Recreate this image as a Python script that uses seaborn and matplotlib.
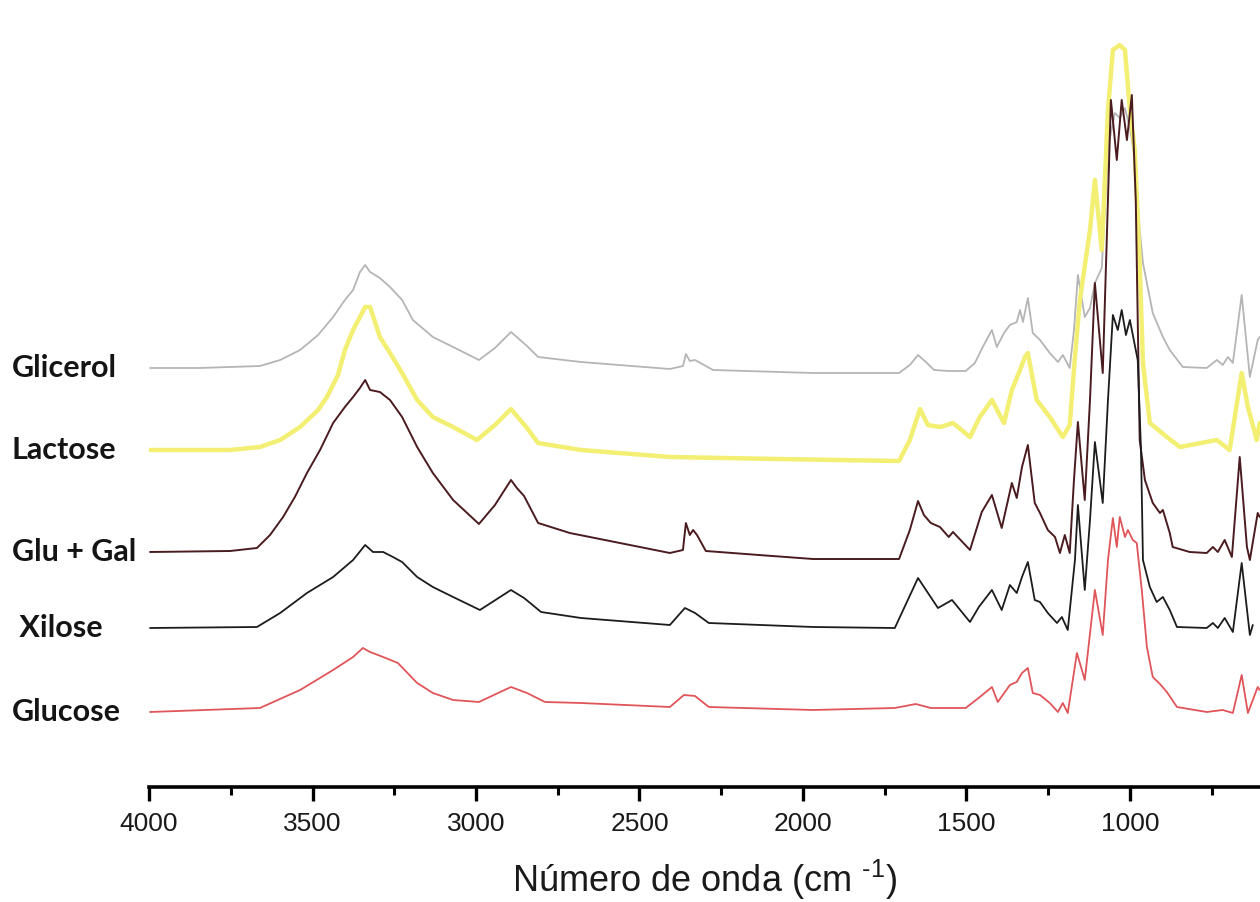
import numpy as np
import pandas as pd
import seaborn as sns
import matplotlib.pyplot as plt
from matplotlib import transforms
from matplotlib.ticker import MultipleLocator

# FTIR spectra (wavenumber in cm-1, absorbance in a.u.)
glicerol_wn = [3997, 3844, 3752, 3661, 3599, 3538, 3483, 3437, 3401, 3376, 3355, 3339, 3324, 3294, 3263, 3226, 3193,
               3132, 3070, 2991, 2942, 2893, 2844, 2810, 2679, 2407, 2367, 2358, 2346, 2330, 2275, 1969, 1706, 1673,
               1648, 1624, 1599, 1554, 1502, 1474, 1450, 1422, 1407, 1385, 1367, 1346, 1336, 1327, 1312, 1297, 1275,
               1245, 1220, 1205, 1184, 1171, 1159, 1138, 1122, 1107, 1086, 1067, 1046, 1031, 1015, 1000, 985, 970,
               960, 930, 899, 878, 838, 765, 734, 716, 700, 685, 658, 633, 609, 603]
glicerol_abs = [0, 0, 0.01, 0.02, 0.08, 0.18, 0.33, 0.51, 0.68, 0.78, 0.96, 1.03, 0.96, 0.90, 0.81, 0.68, 0.48,
                0.31, 0.21, 0.08, 0.20, 0.36, 0.22, 0.11, 0.06, -0.01, 0.02, 0.14, 0.07, 0.08, -0.02, -0.05, -0.05, 0.03,
                0.13, 0.06, -0.02, -0.03, -0.03, 0.05, 0.21, 0.38, 0.21, 0.35, 0.43, 0.46, 0.58, 0.46, 0.70, 0.35, 0.28,
                0.15, 0.06, 0.13, 0.00, 0.38, 0.93, 0.51, 0.60, 0.85, 1.00, 2.20, 2.55, 2.50, 2.60, 2.40, 2.10, 1.38,
                1.05, 0.55, 0.31, 0.18, 0.01, 0.00, 0.08, 0.03, 0.11, 0.05, 0.73, -0.09, 0.28, 0.31]

lactose_wn = [3997, 3752, 3661, 3599, 3538, 3483, 3456, 3422, 3401, 3376, 3355, 3339, 3324, 3294, 3263, 3226, 3180,
              3132, 3070, 2997, 2942, 2893, 2844, 2810, 2679, 2407, 2080, 1706, 1673, 1642, 1618, 1581, 1560, 1541,
              1489, 1459, 1422, 1385, 1361, 1336, 1321, 1312, 1285, 1245, 1205, 1184, 1168, 1153, 1122, 1107, 1086,
              1067, 1052, 1031, 1015, 1000, 985, 970, 960, 939, 887, 847, 734, 695, 658, 639, 612, 603]
lactose_abs = [0, 0, 0.03, 0.10, 0.23, 0.40, 0.53, 0.75, 1.00, 1.20, 1.33, 1.43, 1.43, 1.13, 0.97, 0.77, 0.50,
               0.33, 0.23, 0.10, 0.25, 0.41, 0.22, 0.07, 0.00, -0.07, -0.09, -0.11, 0.10, 0.41, 0.25, 0.23, 0.25, 0.27,
               0.13, 0.33, 0.50, 0.27, 0.60, 0.80, 0.93, 0.97, 0.50, 0.33, 0.13, 0.25, 0.93, 1.50, 2.20, 2.70, 2.00,
               3.40, 4.00, 4.05, 4.00, 3.40, 3.00, 1.87, 0.87, 0.27, 0.13, 0.03, 0.10, 0.00, 0.77, 0.43, 0.10, 0.27]

glugal_wn = [3997, 3752, 3670, 3630, 3590, 3554, 3517, 3477, 3437, 3401, 3376, 3355, 3339, 3324, 3294, 3263, 3226,
             3180, 3132, 3070, 2991, 2942, 2893, 2875, 2853, 2810, 2713, 2407, 2367, 2358, 2346, 2336, 2324, 2297,
             2135, 1969, 1706, 1673, 1648, 1630, 1609, 1581, 1554, 1541, 1489, 1453, 1422, 1392, 1361, 1346, 1330,
             1312, 1291, 1275, 1251, 1229, 1214, 1199, 1184, 1171, 1159, 1138, 1122, 1107, 1083, 1070, 1058, 1040,
             1025, 1009, 994, 982, 970, 954, 930, 908, 899, 878, 869, 817, 765, 746, 731, 710, 688, 664, 642, 633,
             609, 603]
glugal_abs = [0, 0.01, 0.04, 0.17, 0.35, 0.55, 0.79, 1.02, 1.29, 1.45, 1.55, 1.64, 1.72, 1.62, 1.60, 1.52, 1.35,
              1.05, 0.79, 0.52, 0.28, 0.47, 0.72, 0.64, 0.56, 0.29, 0.19, -0.01, 0.02, 0.29, 0.17, 0.22, 0.17, 0.01,
              -0.03, -0.07, -0.07, 0.22, 0.51, 0.37, 0.29, 0.25, 0.15, 0.20, 0.02, 0.40, 0.57, 0.24, 0.69, 0.54, 0.85,
              1.07, 0.49, 0.39, 0.22, 0.15, -0.01, 0.17, -0.01, 0.72, 1.30, 0.52, 1.52, 2.69, 1.79, 3.20, 4.52, 3.92,
              4.52, 4.12, 4.57, 3.52, 1.12, 0.72, 0.49, 0.39, 0.42, 0.19, 0.05, 0.00, -0.01, 0.05, 0.00, 0.12, -0.05,
              0.95, 0.05, -0.08, 0.39, 0.35]

xilose_wn = [3997, 3670, 3599, 3517, 3437, 3376, 3339, 3315, 3284, 3254, 3226, 3180, 3132, 3070, 2988, 2893, 2853,
             2801, 2679, 2407, 2361, 2330, 2288, 1969, 1719, 1648, 1587, 1544, 1489, 1462, 1422, 1392, 1367, 1346,
             1330, 1312, 1291, 1275, 1251, 1223, 1208, 1190, 1168, 1159, 1138, 1122, 1107, 1083, 1067, 1052, 1037,
             1025, 1012, 1000, 985, 976, 966, 960, 939, 918, 899, 878, 856, 765, 746, 731, 710, 685, 658, 633, 624]
xilose_abs = [0, 0.01, 0.15, 0.35, 0.51, 0.68, 0.83, 0.76, 0.76, 0.71, 0.66, 0.51, 0.41, 0.31, 0.18, 0.38, 0.30,
              0.16, 0.10, 0.03, 0.20, 0.15, 0.05, 0.01, 0.00, 0.50, 0.20, 0.28, 0.06, 0.21, 0.38, 0.18, 0.43, 0.35,
              0.51, 0.66, 0.28, 0.26, 0.15, 0.05, 0.11, -0.02, 0.68, 1.23, 0.38, 1.08, 1.86, 1.25, 2.28, 3.13, 2.98,
              3.18, 2.93, 3.08, 2.83, 2.68, 1.78, 0.68, 0.41, 0.26, 0.31, 0.18, 0.01, 0.00, 0.05, 0.00, 0.10, -0.04,
              0.65, -0.07, 0.03]

glucose_wn = [3997, 3661, 3538, 3437, 3376, 3346, 3324, 3284, 3239, 3180, 3132, 3070, 2991, 2893, 2844, 2789, 2679,
              2407, 2364, 2330, 2288, 1969, 1719, 1655, 1609, 1502, 1459, 1422, 1404, 1367, 1346, 1330, 1312, 1297,
              1275, 1245, 1220, 1205, 1190, 1162, 1138, 1107, 1083, 1067, 1052, 1040, 1031, 1015, 1006, 991, 979,
              963, 948, 930, 908, 887, 856, 765, 716, 685, 658, 639, 609, 603]
glucose_abs = [0, 0.04, 0.22, 0.42, 0.55, 0.64, 0.60, 0.55, 0.49, 0.29, 0.19, 0.12, 0.10, 0.25, 0.19, 0.10, 0.09,
               0.05, 0.17, 0.16, 0.05, 0.02, 0.04, 0.08, 0.04, 0.04, 0.15, 0.25, 0.10, 0.27, 0.30, 0.39, 0.44, 0.19,
               0.17, 0.09, 0.00, 0.09, -0.01, 0.59, 0.32, 1.22, 0.77, 1.52, 1.94, 1.65, 1.95, 1.75, 1.82, 1.72, 1.69,
               1.20, 0.65, 0.35, 0.28, 0.20, 0.05, 0.00, 0.02, -0.01, 0.37, -0.01, 0.25, 0.22]

samples = ['Glicerol', 'Lactose', 'Glu + Gal', 'Xilose', 'Glucose']
labels = ['Glicerol', 'Lactose', 'Glu + Gal', ' Xilose', 'Glucose']
offsets = [4.19, 3.37, 2.35, 1.59, 0.75]   # vertical stacking of the spectra
colors = ['#b5b5b5', '#f2ef72', '#4a1c1f', '#1c1c1c', '#e0555a']
widths = [1.3, 3.2, 1.4, 1.3, 1.3]

spectra = {
    'Glicerol': (glicerol_wn, glicerol_abs),
    'Lactose': (lactose_wn, lactose_abs),
    'Glu + Gal': (glugal_wn, glugal_abs),
    'Xilose': (xilose_wn, xilose_abs),
    'Glucose': (glucose_wn, glucose_abs),
}

frames = []
for name, off in zip(samples, offsets):
    wn, ab = spectra[name]
    frames.append(pd.DataFrame({'wn': wn, 'abs': np.array(ab) + off, 'sample': name}))
df = pd.concat(frames, ignore_index=True)

sns.set_style('white')
plt.rcParams['font.family'] = ['Liberation Sans', 'DejaVu Sans']
plt.rcParams['mathtext.fontset'] = 'custom'
plt.rcParams['mathtext.rm'] = 'Liberation Sans'

fig = plt.figure(figsize=(12.6, 9.02), dpi=100)
ax = fig.add_axes([0.1183, 0.1275, 0.8817, 0.8725])

for name, color, lw in zip(samples, colors, widths):
    sns.lineplot(data=df[df['sample'] == name], x='wn', y='abs', color=color, lw=lw,
                 estimator=None, sort=False, ax=ax)

ax.set_xlim(4000, 602)
ax.set_ylim(0, 7.87)
ax.set_yticks([])
ax.set_ylabel('')
for s in ['top', 'left', 'right']:
    ax.spines[s].set_visible(False)
ax.spines['bottom'].set_linewidth(2.6)
ax.spines['bottom'].set_color('black')

ax.xaxis.set_major_locator(MultipleLocator(500))
ax.xaxis.set_minor_locator(MultipleLocator(250))
ax.tick_params(axis='x', which='major', direction='out', length=10, width=2.4, color='black',
               labelsize=19, pad=8, labelcolor='#1a1a1a', bottom=True)
ax.tick_params(axis='x', which='minor', direction='out', length=6, width=2.2, color='black', bottom=True)

ax.set_xlabel(r'Número de onda (cm $^{\text{-}1}$)', fontsize=26, color='#1a1a1a')
ax.xaxis.label.set_va('center')
ax.xaxis.set_label_coords(0.5, -0.118)

trans = transforms.blended_transform_factory(fig.transFigure, ax.transData)
for lab, off in zip(labels, offsets):
    ax.text(0.0095, off, lab, transform=trans, fontsize=22, fontweight='bold',
            family=['Lato', 'DejaVu Sans'], va='center', ha='left', color='#141414')

fig.savefig('out.png', dpi=100)
